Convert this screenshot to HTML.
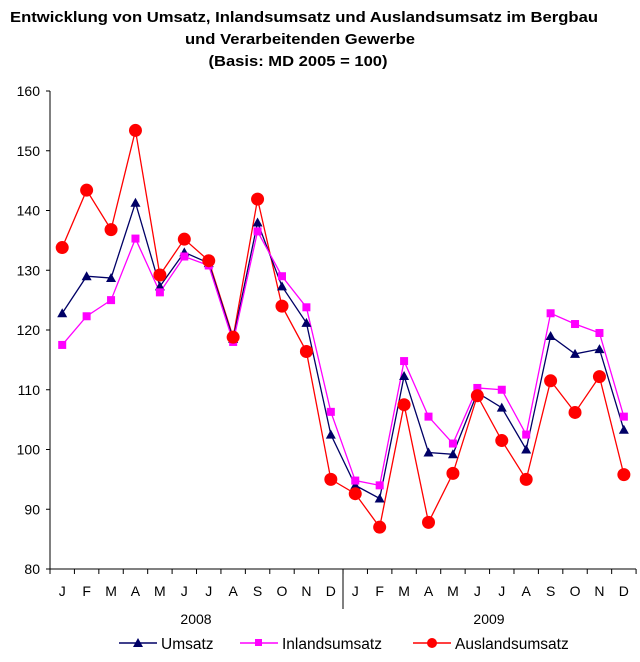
<!DOCTYPE html>
<html><head><meta charset="utf-8"><style>
body{margin:0;background:#fff;width:640px;height:657px;overflow:hidden;font-family:"Liberation Sans",Arial,sans-serif}
</style></head><body>
<svg width="640" height="657" xmlns="http://www.w3.org/2000/svg" font-family="Liberation Sans, Arial, sans-serif">
<g font-weight="bold" font-size="15" text-anchor="middle" fill="#000">
<text x="304" y="22" textLength="588" lengthAdjust="spacingAndGlyphs">Entwicklung von Umsatz, Inlandsumsatz und Auslandsumsatz im Bergbau</text>
<text x="300" y="44" textLength="230" lengthAdjust="spacingAndGlyphs">und Verarbeitenden Gewerbe</text>
<text x="298" y="66" textLength="179" lengthAdjust="spacingAndGlyphs">(Basis: MD 2005 = 100)</text>
</g>
<g stroke="#000" stroke-width="1">
<line x1="50" y1="91" x2="50" y2="569"/>
<line x1="50" y1="569" x2="636" y2="569"/>
<line x1="343" y1="569" x2="343" y2="609"/>
</g>
<g id="ticks" stroke="#000"></g>
<g font-size="14" text-anchor="end" id="yl"></g>
<g font-size="14" text-anchor="middle" id="xl"></g>
<text x="196" y="624" font-size="14" text-anchor="middle">2008</text>
<text x="489" y="624" font-size="14" text-anchor="middle">2009</text>
<g id="series"></g>
<g font-size="15.5">
<line x1="119" y1="643" x2="157" y2="643" stroke="#000066" stroke-width="1.5"/><polygon points="138,638 133,647 143,647" fill="#000066"/>
<text x="161" y="649">Umsatz</text>
<line x1="240" y1="643" x2="278" y2="643" stroke="#ff00ff" stroke-width="1.5"/><rect x="255" y="639" width="7" height="7" fill="#ff00ff"/>
<text x="282" y="649">Inlandsumsatz</text>
<line x1="413" y1="643" x2="451" y2="643" stroke="#ff0000" stroke-width="1.5"/><circle cx="432" cy="643" r="5" fill="#ff0000"/>
<text x="455" y="649">Auslandsumsatz</text>
</g>
</svg>
<script>
const ns="http://www.w3.org/2000/svg";
function el(p,t,a,txt){const e=document.createElementNS(ns,t);for(const k in a)e.setAttribute(k,a[k]);if(txt!==undefined)e.textContent=txt;document.getElementById(p).appendChild(e);return e;}
const Y=v=>91+(160-v)*5.975, W=24.42, X=i=>50+W*(i+0.5);
for(let v=80;v<=160;v+=10){el("ticks","line",{x1:46,x2:50,y1:Y(v),y2:Y(v)});el("yl","text",{x:40,y:Y(v)+5},v);}
for(let i=0;i<=24;i++)el("ticks","line",{x1:50+W*i,x2:50+W*i,y1:569,y2:574});
const m="JFMAMJJASOND";
for(let i=0;i<24;i++)el("xl","text",{x:X(i),y:596},m[i%12]);
const U=[122.8,129,128.7,141.3,127.3,133,131.2,118.5,138,127.3,121.2,102.5,94,91.8,112.3,99.5,99.2,109.5,107,100,119,116,116.8,103.3];
const I=[117.5,122.3,125,135.3,126.3,132.3,130.8,118,136.5,129,123.8,106.3,94.8,94,114.8,105.5,101,110.3,110,102.5,122.8,121,119.5,105.5];
const A=[133.8,143.4,136.8,153.4,129.2,135.2,131.6,118.8,141.9,124,116.4,95,92.6,87,107.5,87.8,96,109,101.5,95,111.5,106.2,112.2,95.8];
function line(d,c){el("series","polyline",{points:d.map((v,i)=>X(i)+","+Y(v)).join(" "),fill:"none",stroke:c,"stroke-width":1.3});}
line(A,"#ff0000");line(U,"#000066");line(I,"#ff00ff");
U.forEach((v,i)=>{const x=X(i),y=Y(v);el("series","polygon",{points:`${x},${y-5} ${x-5},${y+4} ${x+5},${y+4}`,fill:"#000066"});});
I.forEach((v,i)=>el("series","rect",{x:X(i)-4,y:Y(v)-4,width:8,height:8,fill:"#ff00ff"}));
A.forEach((v,i)=>el("series","circle",{cx:X(i),cy:Y(v),r:6.5,fill:"#ff0000"}));
</script>
</body></html>
